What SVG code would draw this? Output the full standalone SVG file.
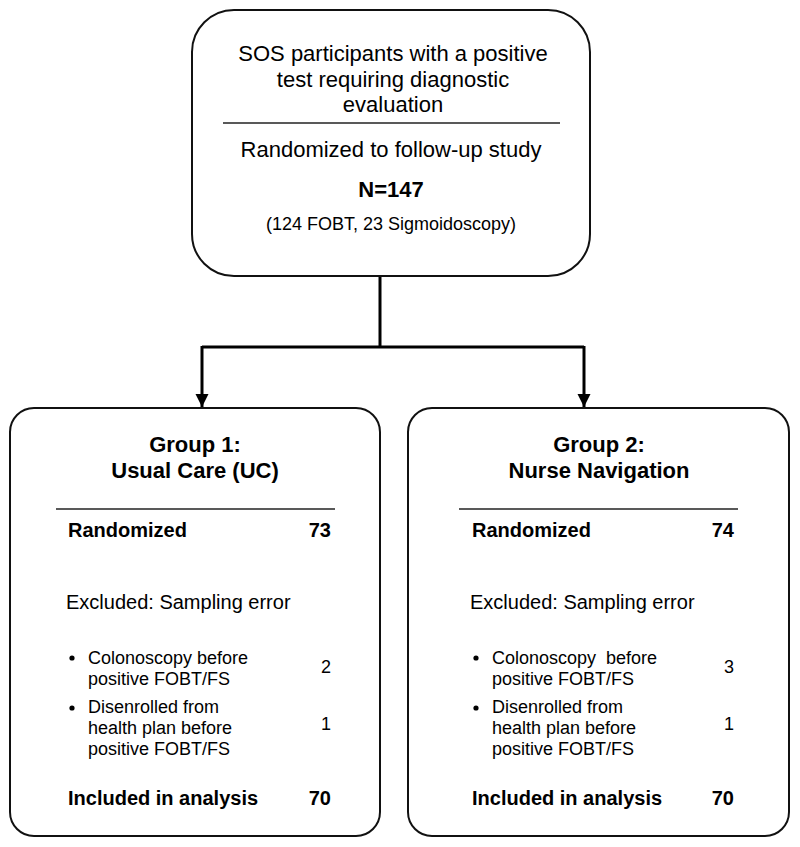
<svg xmlns="http://www.w3.org/2000/svg" width="800" height="847" viewBox="0 0 800 847">
<style>
text { font-family: "Liberation Sans", Arial, sans-serif; fill: #000; }
.box { fill: #fff; stroke: #111; stroke-width: 2; }
.sep { stroke: #222; stroke-width: 1.5; }
.t22 { font-size: 22px; }
.t18 { font-size: 18px; }
.t20 { font-size: 20px; }
.b { font-weight: bold; }
.c { text-anchor: middle; }
.r { text-anchor: end; }
.conn { fill: none; stroke: #000; stroke-width: 3; }
</style>
<defs>
<marker id="arr" viewBox="0 0 10 10" refX="10" refY="5" markerWidth="4.5" markerHeight="4.5" markerUnits="strokeWidth" orient="auto">
<path d="M0,0 L10,5 L0,10 Z" fill="#000"/>
</marker>
</defs>
<rect width="800" height="847" fill="#fff"/>
<g id="connectors">
<path class="conn" d="M380,277 V347"/>
<path class="conn" d="M202,347 H584"/>
<path class="conn" d="M202,346 V407" marker-end="url(#arr)"/>
<path class="conn" d="M584,346 V407" marker-end="url(#arr)"/>
</g>
<g id="top">
<rect class="box" x="192" y="10" width="398" height="266" rx="42" ry="42"/>
<text class="t22 c" x="393" y="61">SOS participants with a positive</text>
<text class="t22 c" x="393" y="87">test requiring diagnostic</text>
<text class="t22 c" x="393" y="112">evaluation</text>
<line class="sep" x1="223" y1="123" x2="560" y2="123"/>
<text class="t22 c" x="391" y="157">Randomized to follow-up study</text>
<text class="t22 c b" x="391" y="197">N=147</text>
<text class="t18 c" x="391" y="230">(124 FOBT, 23 Sigmoidoscopy)</text>
</g>
<g id="group1">
<rect class="box" x="10" y="408" width="370" height="428" rx="24" ry="24"/>
<text class="t22 c b" x="195" y="452">Group 1:</text>
<text class="t22 c b" x="195" y="478">Usual Care (UC)</text>
<line class="sep" x1="56" y1="509" x2="335" y2="509"/>
<text class="t20 b" x="68" y="537">Randomized</text>
<text class="t20 b r" x="331" y="537">73</text>
<text class="t20" x="66" y="609">Excluded: Sampling error</text>
<circle cx="72" cy="658" r="2.6" fill="#000"/>
<text class="t18" x="88" y="664">Colonoscopy before</text>
<text class="t18" x="88" y="685">positive FOBT/FS</text>
<text class="t18 r" x="331" y="673">2</text>
<circle cx="72" cy="708" r="2.6" fill="#000"/>
<text class="t18" x="88" y="713">Disenrolled from</text>
<text class="t18" x="88" y="734">health plan before</text>
<text class="t18" x="88" y="755">positive FOBT/FS</text>
<text class="t18 r" x="331" y="730">1</text>
<text class="t20 b" x="68" y="805">Included in analysis</text>
<text class="t20 b r" x="331" y="805">70</text>
</g>
<g id="group2">
<rect class="box" x="408" y="408" width="381" height="428" rx="24" ry="24"/>
<text class="t22 c b" x="599" y="452">Group 2:</text>
<text class="t22 c b" x="599" y="478">Nurse Navigation</text>
<line class="sep" x1="459" y1="509" x2="738" y2="509"/>
<text class="t20 b" x="472" y="537">Randomized</text>
<text class="t20 b r" x="734" y="537">74</text>
<text class="t20" x="470" y="609">Excluded: Sampling error</text>
<circle cx="476" cy="658" r="2.6" fill="#000"/>
<text class="t18" x="492" y="664" style="white-space:pre">Colonoscopy  before</text>
<text class="t18" x="492" y="685">positive FOBT/FS</text>
<text class="t18 r" x="734" y="673">3</text>
<circle cx="476" cy="708" r="2.6" fill="#000"/>
<text class="t18" x="492" y="713">Disenrolled from</text>
<text class="t18" x="492" y="734">health plan before</text>
<text class="t18" x="492" y="755">positive FOBT/FS</text>
<text class="t18 r" x="734" y="730">1</text>
<text class="t20 b" x="472" y="805">Included in analysis</text>
<text class="t20 b r" x="734" y="805">70</text>
</g>
</svg>
